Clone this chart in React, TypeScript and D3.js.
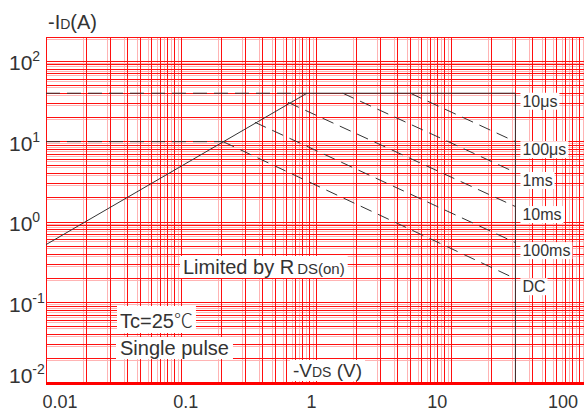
import { useEffect, useRef } from 'react';
import * as d3 from 'd3';

// ---- data ----
const xTickValues = [0.01, 0.1, 1, 10, 100];
const xTickLabels = ['0.01', '0.1', '1', '10', '100'];
const yTickValues = [0.01, 0.1, 1, 10, 100];
const yTickExponents = ['-2', '-1', '0', '1', '2'];

// R_DS(on) limit line (V, A)
const rdsVoltage = [0.01, 0.857];
const rdsCurrent = [0.525, 40];
const maxCurrent = 40;
const maxVoltage = 30;
// dashed leaders drawn from the left edge
const leaderCurrents = [40, 10];
const leaderEndVoltages = [0.857, 0.205];

// pulse-width limit lines
const pulseNames = ['10μs', '100μs', '1ms', '10ms', '100ms', 'DC'];
const pulseStartVoltage = [0.857, 5.0, 1.58, 0.62, 0.353, 0.205];
const pulseStartCurrent = [40, 40, 40, 30.8, 17.4, 10];
const pulseEndCurrent = [40, 10, 4.14, 1.56, 0.556, 0.198];

const FONT = "'Liberation Sans', Arial, sans-serif";
const INK = '#333';

export default function App() {
  const ref = useRef<SVGSVGElement>(null);

  useEffect(() => {
    const svg = d3.select(ref.current);
    svg.selectAll('*').remove();
    const L = 46, R = 586, T = 37, B = 383;
    const x = d3.scaleLog().domain([0.01, 100]).range([L, R]);
    const y = d3.scaleLog().domain([0.01, 200]).range([B, T]);
    const xLab = d3.scaleLog().domain([0.01, 100]).range([60, 563]);

    svg.append('rect').attr('width', 584).attr('height', 414).attr('fill', '#fff');

    const xGrid: number[] = [];
    [0.01, 0.1, 1, 10].forEach(d => { for (let k = 1; k <= 9; k++) xGrid.push(k * d); });
    xGrid.push(100);
    const yGrid: number[] = [];
    [0.01, 0.1, 1, 10].forEach(d => { for (let k = 1; k <= 9; k++) yGrid.push(k * d); });
    yGrid.push(100, 200);

    const grid = svg.append('g').attr('shape-rendering', 'crispEdges');
    // pale offset copy of grid (double-line look)
    grid.selectAll('line.pvx').data(xGrid.filter(v => x(v) - 3 > L + 1)).join('line')
      .attr('x1', v => x(v) - 3).attr('x2', v => x(v) - 3).attr('y1', T).attr('y2', B)
      .attr('stroke', '#ffb4b4').attr('stroke-width', 1);
    grid.selectAll('line.pvy').data(yGrid.filter(v => y(v) + 2 < B - 1)).join('line')
      .attr('x1', L).attr('x2', 584).attr('y1', v => y(v) + 2).attr('y2', v => y(v) + 2)
      .attr('stroke', '#ffb4b4').attr('stroke-width', 1);
    // main grid
    grid.selectAll('line.vx').data(xGrid).join('line')
      .attr('x1', v => x(v)).attr('x2', v => x(v)).attr('y1', T).attr('y2', B)
      .attr('stroke', '#ff1010').attr('stroke-width', 1);
    grid.selectAll('line.vy').data(yGrid).join('line')
      .attr('x1', L).attr('x2', 584).attr('y1', v => y(v)).attr('y2', v => y(v))
      .attr('stroke', '#ff1010').attr('stroke-width', 1);
    // thick bottom axis
    grid.append('line').attr('x1', L).attr('x2', 584).attr('y1', B).attr('y2', B)
      .attr('stroke', '#ff0000').attr('stroke-width', 3);

    // ---- black SOA lines ----
    const curves = svg.append('g').attr('fill', 'none').attr('stroke', INK).attr('stroke-width', 1);
    const line = d3.line<[number, number]>().x(d => x(d[0])).y(d => y(d[1]));
    curves.append('path').attr('d', line(rdsVoltage.map((v, i) => [v, rdsCurrent[i]] as [number, number])));
    leaderCurrents.forEach((c, i) => {
      curves.append('path').attr('d', line([[0.01, c], [leaderEndVoltages[i], c]]))
        .attr('stroke-dasharray', '14,7');
    });
    pulseNames.forEach((_, i) => {
      const p = curves.append('path').attr('d', line([[pulseStartVoltage[i], pulseStartCurrent[i]], [maxVoltage, pulseEndCurrent[i]]]));
      if (i > 0) p.attr('stroke-dasharray', '12,7');
    });
    curves.append('path').attr('d', line([[maxVoltage, maxCurrent], [maxVoltage, 0.01]]));

    // ---- texts ----
    const boxed = (build: (g: any) => any, padX = 3, padY = 1) => {
      const g = svg.append('g');
      const t = build(g);
      const bb = (t.node() as SVGTextElement).getBBox();
      g.insert('rect', 'text').attr('x', bb.x - padX).attr('y', bb.y - padY)
        .attr('width', bb.width + 2 * padX).attr('height', bb.height + 2 * padY).attr('fill', '#fff');
    };

    pulseNames.forEach((n, i) => {
      boxed(g => g.append('text').attr('x', x(maxVoltage) + 7).attr('y', y(pulseEndCurrent[i]) + 13.5)
        .attr('font-family', FONT).attr('font-size', 16).attr('fill', INK).text(n), 2, 0);
    });

    boxed(g => {
      const t = g.append('text').attr('x', 183).attr('y', 274).attr('font-family', FONT).attr('fill', INK).attr('font-size', 20);
      t.append('tspan').text('Limited by R');
      t.append('tspan').attr('dx', 3).attr('font-size', 15).text('DS(on)');
      return t;
    }, 3, 0);

    boxed(g => {
      const t = g.append('text').attr('x', 120).attr('y', 328).attr('font-family', FONT).attr('fill', INK).attr('font-size', 20);
      t.append('tspan').text('Tc=25');
      t.append('tspan').attr('font-family', "'Noto Sans CJK SC', sans-serif").attr('font-size', 19).attr('font-weight', 300).text('℃');
      return t;
    }, 3, 0);
    boxed(g => g.append('text').attr('x', 120).attr('y', 355).attr('font-family', FONT).attr('fill', INK)
      .attr('font-size', 20).text('Single pulse'), 4, 0);

    boxed(g => {
      const t = g.append('text').attr('x', 293).attr('y', 377).attr('font-family', FONT).attr('fill', INK).attr('font-size', 19);
      t.append('tspan').text('-V');
      t.append('tspan').attr('font-size', 14).text('DS');
      t.append('tspan').text(' (V)');
      return t;
    }, 3, 0);

    // y-axis title
    const yt = svg.append('text').attr('x', 48).attr('y', 29).attr('font-family', FONT).attr('fill', INK).attr('font-size', 20);
    yt.append('tspan').text('-I');
    yt.append('tspan').attr('font-size', 14).text('D');
    yt.append('tspan').text('(A)');

    // x tick labels
    svg.selectAll('text.xt').data(xTickValues).join('text')
      .attr('x', v => xLab(v)).attr('y', 408).attr('text-anchor', 'middle')
      .attr('font-family', FONT).attr('font-size', 18).attr('fill', INK)
      .text((_, i) => xTickLabels[i]);

    // y tick labels
    yTickValues.forEach((v, i) => {
      const t = svg.append('text').attr('x', 9).attr('y', Math.min(y(v) + 9, B))
        .attr('font-family', FONT).attr('font-size', 21).attr('fill', INK);
      t.append('tspan').text('10');
      t.append('tspan').attr('dy', -9).attr('font-size', 14).text(yTickExponents[i]);
    });
  }, []);

  return (
    <svg ref={ref} width={584} height={414}
      style={{ position: 'absolute', left: 0, top: 0, display: 'block' }} />
  );
}
